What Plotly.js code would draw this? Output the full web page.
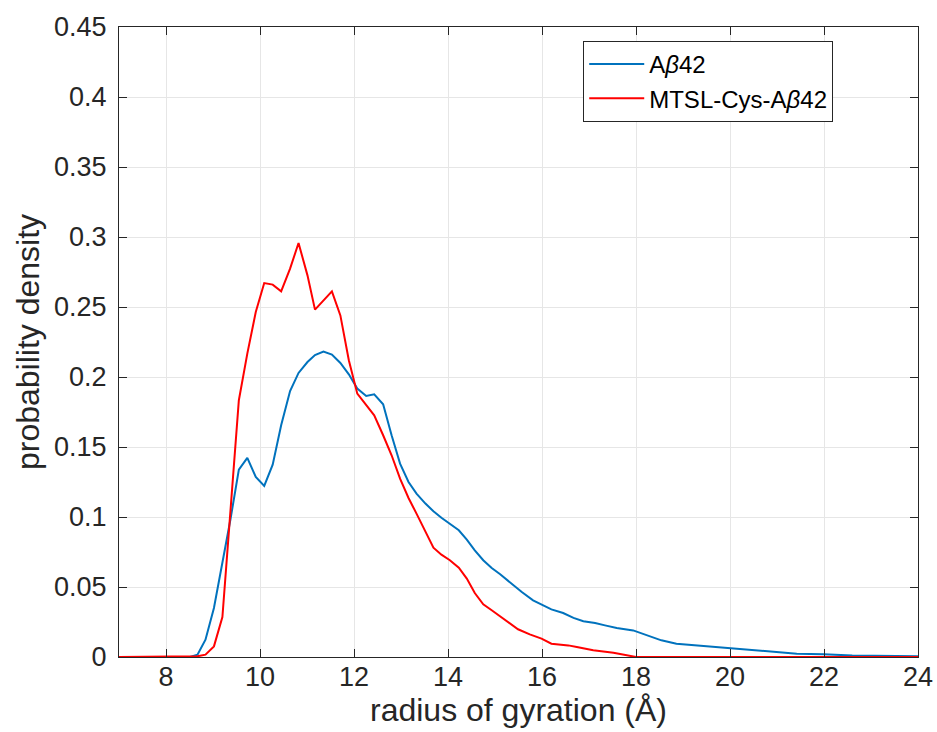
<!DOCTYPE html>
<html>
<head>
<meta charset="utf-8">
<script src="https://cdn.plot.ly/plotly-3.0.1.min.js"></script>
<style>html,body{margin:0;padding:0;background:#fff;}#chart{width:937px;height:732px;}</style>
</head>
<body>
<div id="chart"></div>
<script>
const abX = [7, 8.51, 8.67, 8.84, 9.02, 9.20, 9.37, 9.55, 9.73, 9.91, 10.09, 10.27, 10.45, 10.64, 10.82, 11.01, 11.17, 11.35, 11.53, 11.71, 11.89, 12.07, 12.26, 12.43, 12.62, 12.80, 12.98, 13.16, 13.33, 13.52, 13.69, 13.86, 14.04, 14.23, 14.40, 14.57, 14.75, 14.93, 15.11, 15.35, 15.57, 15.81, 15.99, 16.20, 16.45, 16.67, 16.88, 17.13, 17.34, 17.59, 17.94, 18.23, 18.54, 18.86, 19.29, 20.0, 20.71, 21.42, 21.99, 22.6, 24];
const abY = [0, 0, 0.0017, 0.0124, 0.035, 0.066, 0.098, 0.1338, 0.1422, 0.1286, 0.1222, 0.1374, 0.1655, 0.19, 0.2029, 0.2107, 0.2157, 0.2181, 0.216, 0.21, 0.2019, 0.1917, 0.1864, 0.1876, 0.1805, 0.1584, 0.1381, 0.125, 0.1167, 0.1096, 0.1041, 0.0995, 0.0953, 0.0905, 0.0838, 0.0762, 0.0691, 0.0636, 0.0591, 0.0524, 0.0464, 0.0405, 0.0374, 0.034, 0.0314, 0.0279, 0.0255, 0.0243, 0.0226, 0.0207, 0.019, 0.0155, 0.0119, 0.0095, 0.0083, 0.006, 0.0041, 0.0024, 0.0019, 0.001, 0.0005];
const mtslX = [7, 8.51, 8.67, 8.84, 9.02, 9.20, 9.37, 9.55, 9.73, 9.91, 10.09, 10.27, 10.45, 10.64, 10.82, 11.01, 11.17, 11.35, 11.53, 11.71, 11.89, 12.07, 12.26, 12.43, 12.62, 12.80, 12.98, 13.16, 13.33, 13.52, 13.69, 13.86, 14.04, 14.23, 14.40, 14.57, 14.75, 14.93, 15.11, 15.49, 15.74, 15.99, 16.20, 16.56, 16.74, 17.09, 17.52, 17.80, 18.0, 24];
const mtslY = [0, 0, 0.0005, 0.0017, 0.0076, 0.0286, 0.105, 0.1834, 0.2167, 0.2464, 0.2671, 0.266, 0.2612, 0.2774, 0.2957, 0.2726, 0.2481, 0.2548, 0.2612, 0.244, 0.212, 0.1881, 0.1803, 0.1726, 0.1584, 0.1441, 0.1274, 0.1136, 0.1024, 0.0893, 0.0781, 0.0731, 0.0691, 0.0638, 0.056, 0.0457, 0.0376, 0.0334, 0.0291, 0.0198, 0.0162, 0.0131, 0.0095, 0.0083, 0.0071, 0.0048, 0.0031, 0.0012, 0, 0];
const seriesNames = ["A<i>β</i>42", "MTSL-Cys-A<i>β</i>42"];
const xTicks = [8, 10, 12, 14, 16, 18, 20, 22, 24];
const yTicks = [0, 0.05, 0.1, 0.15, 0.2, 0.25, 0.3, 0.35, 0.4, 0.45];
const yTickText = ["0", "0.05", "0.1", "0.15", "0.2", "0.25", "0.3", "0.35", "0.4", "0.45"];

const font = "Liberation Sans, Arial, Helvetica, sans-serif";
const axisCommon = {
  showline: true, linecolor: "#262626", linewidth: 1, mirror: "ticks",
  ticks: "inside", ticklen: 8, tickcolor: "#262626", tickwidth: 1,
  showgrid: true, gridcolor: "#e6e6e6", gridwidth: 1, zeroline: false,
  tickfont: {family: font, size: 27, color: "#262626"}
};
const data = [
  {x: abX, y: abY, type: "scatter", mode: "lines", name: seriesNames[0], line: {color: "#0072BD", width: 2}},
  {x: mtslX, y: mtslY, type: "scatter", mode: "lines", name: seriesNames[1], line: {color: "#FF0000", width: 2}}
];
const layout = {
  width: 937, height: 732,
  margin: {l: 119, r: 19, t: 27, b: 75},
  paper_bgcolor: "#fff", plot_bgcolor: "#fff",
  font: {family: font, color: "#262626"},
  xaxis: Object.assign({}, axisCommon, {
    range: [7, 24], tickvals: xTicks, ticktext: xTicks.map(String),
    ticklabelstandoff: -4,
    title: {text: "radius of gyration (Å)", font: {family: font, size: 32, color: "#262626"}, standoff: 0}
  }),
  yaxis: Object.assign({}, axisCommon, {
    range: [0, 0.45], tickvals: yTicks, ticktext: yTickText,
    ticklabelstandoff: 6,
    title: {text: "probability density", font: {family: font, size: 32, color: "#262626"}, standoff: 4}
  }),
  showlegend: true,
  legend: {
    x: 0.581, y: 0.978, xanchor: "left", yanchor: "top",
    bgcolor: "#fff", bordercolor: "#262626", borderwidth: 1,
    font: {family: font, size: 24, color: "#000"},
    itemwidth: 55, tracegroupgap: 0
  }
};
Plotly.newPlot("chart", data, layout, {displayModeBar: false, staticPlot: true});
</script>
</body>
</html>
